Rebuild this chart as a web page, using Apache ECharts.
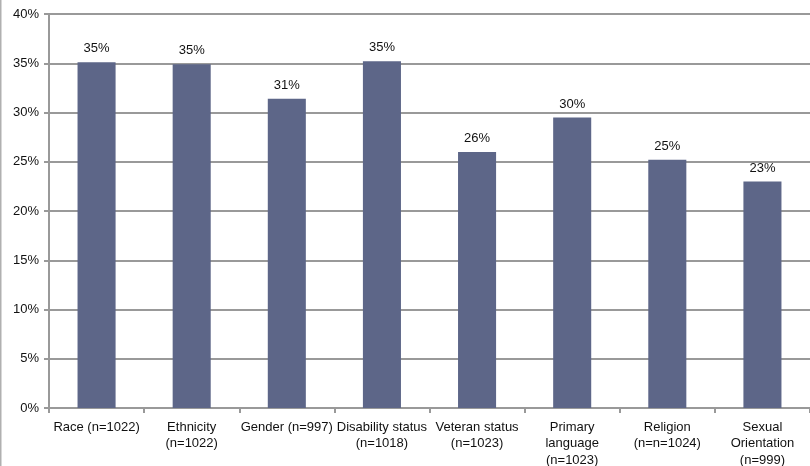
<!DOCTYPE html>
<html>
<head>
<meta charset="utf-8">
<script src="https://cdn.jsdelivr.net/npm/echarts@6/dist/echarts.min.js"></script>
<style>
html,body{margin:0;padding:0;background:#fff;}
#chart{width:810px;height:466px;}
</style>
</head>
<body>
<div id="chart"></div>
<script>
var categories = [
  "Race (n=1022)",
  "Ethnicity\n(n=1022)",
  "Gender (n=997)",
  "Disability status\n(n=1018)",
  "Veteran status\n(n=1023)",
  "Primary\nlanguage\n(n=1023)",
  "Religion\n(n=n=1024)",
  "Sexual\nOrientation\n(n=999)"
];
var values = [35.1, 34.9, 31.4, 35.2, 26.0, 29.5, 25.2, 23.0];
var valueLabels = ["35%", "35%", "31%", "35%", "26%", "30%", "25%", "23%"];

var chart = echarts.init(document.getElementById('chart'), null, {renderer: 'canvas'});
var font = 'Liberation Sans, Arial, sans-serif';
chart.setOption({
  animation: false,
  backgroundColor: '#fff',
  graphic: [{
    type: 'rect',
    shape: {x: 0, y: 0, width: 1.5, height: 466},
    style: {fill: '#b0b0b0'}
  }],
  grid: {left: 49, right: 0, top: 14, bottom: 58, containLabel: false, outerBoundsMode: 'none'},
  xAxis: {
    type: 'category',
    data: categories,
    boundaryGap: true,
    axisLine: {lineStyle: {color: '#999', width: 2}},
    axisTick: {show: true, length: 5, lineStyle: {color: '#999', width: 2}},
    axisLabel: {
      interval: 0, color: '#111', fontSize: 13, fontFamily: font,
      lineHeight: 16.5, margin: 11
    },
    splitLine: {show: false}
  },
  yAxis: {
    type: 'value',
    min: 0, max: 40, interval: 5,
    axisLine: {show: true, lineStyle: {color: '#999', width: 2}},
    axisTick: {show: true, length: 5, lineStyle: {color: '#999', width: 2}},
    axisLabel: {
      formatter: '{value}%', color: '#111', fontSize: 13, fontFamily: font, margin: 10
    },
    splitLine: {show: true, lineStyle: {color: '#999', width: 2}}
  },
  series: [{
    type: 'bar',
    data: values,
    barWidth: '40%',
    itemStyle: {color: '#5d6688'},
    label: {
      show: true, position: 'top', distance: 7,
      color: '#111', fontSize: 13, fontFamily: font,
      formatter: function (p) { return valueLabels[p.dataIndex]; }
    }
  }]
});
</script>
</body>
</html>
